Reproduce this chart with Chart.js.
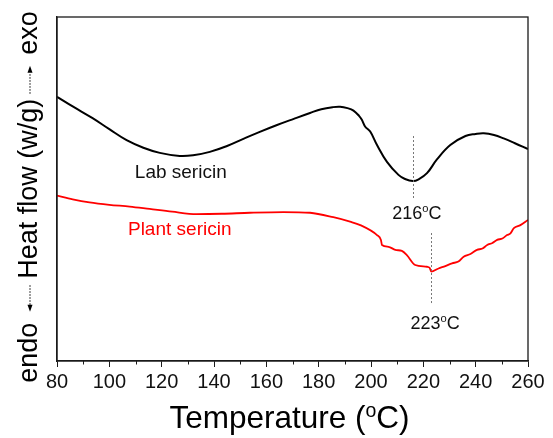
<!DOCTYPE html>
<html>
<head>
<meta charset="utf-8">
<title>DSC curves of sericin</title>
<script src="https://cdn.jsdelivr.net/npm/chart.js@4/dist/chart.umd.min.js"></script>
<style>
  html, body { margin: 0; padding: 0; background: #ffffff; }
  #wrap { width: 553px; height: 438px; }
</style>
</head>
<body>
<div id="wrap"><canvas id="dsc" width="553" height="438"></canvas></div>
<script>
// Temperature axis ticks (°C)
const tempTicks = [80, 100, 120, 140, 160, 180, 200, 220, 240, 260];

// Lab sericin DSC trace: temperature (°C) and heat flow (arbitrary, shifted)
const labTemp = [80, 86, 93.6, 100, 106.6, 113, 119.3, 126.9, 132, 138.4, 145, 151, 157.5, 164.1,
  170.5, 176.7, 181, 185.5, 188.2, 191, 193.3, 195.5, 196.5, 197.8, 199.7, 202.3, 206.1, 210.5,
  213, 216, 218.2, 221.4, 225.2, 230.3, 236.1, 240, 243.1, 247, 250.7, 255, 260];
const labFlow = [7.68, 7.40, 7.06, 6.74, 6.42, 6.20, 6.05, 5.96, 5.98, 6.08, 6.25, 6.45, 6.66, 6.86,
  7.04, 7.21, 7.32, 7.38, 7.39, 7.35, 7.28, 7.12, 7.01, 6.81, 6.67, 6.28, 5.79, 5.41,
  5.29, 5.23, 5.28, 5.46, 5.86, 6.28, 6.54, 6.60, 6.62, 6.57, 6.47, 6.33, 6.16];

// Plant sericin DSC trace
const plantTemp = [80, 86, 92.4, 100, 107.8, 115.4, 124, 133.3, 143, 153.7, 166.5, 176.7, 185.6, 192,
  195.9, 202.3, 203.8, 204.2, 206.7, 209.3, 211.8, 213.7, 216.9, 221.4, 222.4, 223, 225.8, 228.4,
  231, 233.4, 235.4, 238, 240.5, 242.6, 244.4, 246.4, 248.2, 250.2, 252, 253.3, 254.6, 257.1, 260];
const plantFlow = [4.81, 4.70, 4.61, 4.54, 4.49, 4.42, 4.34, 4.27, 4.28, 4.31, 4.33, 4.31, 4.18, 4.05,
  3.95, 3.66, 3.52, 3.37, 3.32, 3.23, 3.20, 3.08, 2.79, 2.74, 2.71, 2.60, 2.69, 2.76,
  2.84, 2.89, 3.03, 3.11, 3.23, 3.27, 3.37, 3.43, 3.52, 3.56, 3.66, 3.71, 3.86, 3.95, 4.10];

// Endothermic peak temperatures marked on each trace (°C)
const peakTemps = [216, 223];
const seriesNames = ['Lab sericin', 'Plant sericin'];

const FONT = '"Liberation Sans", Arial, Helvetica, sans-serif';

function toPoints(xs, ys) { return xs.map((x, i) => ({ x: x, y: ys[i] })); }

// text with superscript pieces: parts = [[text, isSup], ...]
function drawRich(ctx, parts, cx, baseY, size, color) {
  const supSize = size * 0.62;
  let total = 0;
  parts.forEach(([t, sup]) => {
    ctx.font = (sup ? supSize : size) + 'px ' + FONT;
    total += ctx.measureText(t).width;
  });
  let x = cx - total / 2;
  ctx.fillStyle = color;
  ctx.textAlign = 'left';
  ctx.textBaseline = 'alphabetic';
  parts.forEach(([t, sup]) => {
    ctx.font = (sup ? supSize : size) + 'px ' + FONT;
    ctx.fillText(t, x, sup ? baseY - size * 0.36 : baseY);
    x += ctx.measureText(t).width;
  });
}

// dotted arrow along +x, head at the end given by dir (1 = right, -1 = left)
function dottedArrow(ctx, x0, len, dir) {
  const head = 7;
  ctx.save();
  ctx.strokeStyle = '#000';
  ctx.fillStyle = '#000';
  ctx.lineWidth = 1;
  ctx.setLineDash([1.5, 1.5]);
  ctx.beginPath();
  if (dir > 0) { ctx.moveTo(x0, 0); ctx.lineTo(x0 + len - head, 0); }
  else { ctx.moveTo(x0 + head, 0); ctx.lineTo(x0 + len, 0); }
  ctx.stroke();
  ctx.setLineDash([]);
  ctx.beginPath();
  if (dir > 0) {
    ctx.moveTo(x0 + len, 0); ctx.lineTo(x0 + len - head, -2.5); ctx.lineTo(x0 + len - head, 2.5);
  } else {
    ctx.moveTo(x0, 0); ctx.lineTo(x0 + head, -2.5); ctx.lineTo(x0 + head, 2.5);
  }
  ctx.closePath();
  ctx.fill();
  ctx.restore();
}

const decorations = {
  id: 'decorations',
  afterDraw(chart) {
    const { ctx, chartArea: a, scales: { x, y } } = chart;
    ctx.save();

    // frame
    ctx.strokeStyle = '#1a1a1a';
    ctx.lineWidth = 1.3;
    ctx.strokeRect(a.left, a.top, a.right - a.left, a.bottom - a.top);

    // minor ticks between labelled ones
    ctx.lineWidth = 1;
    ctx.beginPath();
    for (let t = tempTicks[0] + 10; t < tempTicks[tempTicks.length - 1]; t += 20) {
      const px = Math.round(x.getPixelForValue(t)) + 0.5;
      ctx.moveTo(px, a.bottom);
      ctx.lineTo(px, a.bottom + 3.5);
    }
    ctx.stroke();

    // peak markers
    const markerSpans = [[6.54, 4.74], [3.72, 1.63]];
    const labelLevels = [4.33, 1.13];
    ctx.strokeStyle = '#777';
    ctx.lineWidth = 1;
    ctx.setLineDash([2, 2]);
    peakTemps.forEach((t, i) => {
      const px = Math.round(x.getPixelForValue(t)) + 0.5;
      ctx.beginPath();
      ctx.moveTo(px, y.getPixelForValue(markerSpans[i][0]));
      ctx.lineTo(px, y.getPixelForValue(markerSpans[i][1]));
      ctx.stroke();
    });
    ctx.setLineDash([]);
    peakTemps.forEach((t, i) => {
      drawRich(ctx, [[String(t), false], ['o', true], ['C', false]],
        x.getPixelForValue(t + 1.5), y.getPixelForValue(labelLevels[i]) + 6.5, 18, '#111');
    });

    // series names
    const nameSpots = [[127.3, 5.47, '#111'], [126.9, 3.81, '#ff0000']];
    ctx.font = '19px ' + FONT;
    ctx.textAlign = 'center';
    ctx.textBaseline = 'middle';
    seriesNames.forEach((n, i) => {
      ctx.fillStyle = nameSpots[i][2];
      ctx.fillText(n, x.getPixelForValue(nameSpots[i][0]), y.getPixelForValue(nameSpots[i][1]));
    });

    // x axis title
    drawRich(ctx, [['Temperature (', false], ['o', true], ['C)', false]],
      (a.left + a.right) / 2 - 3, 428, 31.5, '#000');

    // y axis title, read bottom to top
    ctx.translate(30, 197);
    ctx.rotate(-Math.PI / 2);
    const size = 27;
    ctx.font = size + 'px ' + FONT;
    ctx.fillStyle = '#000';
    ctx.textBaseline = 'middle';
    ctx.textAlign = 'left';
    const w1 = ctx.measureText('endo').width;
    const w2 = ctx.measureText('Heat flow (w/g)').width;
    const w3 = ctx.measureText('exo').width;
    const arrowLen = 28, gapNear = 5, gapFar = 11;
    const total = w1 + gapFar + arrowLen + gapNear + w2 + gapNear + arrowLen + gapFar + w3;
    let cx = -total / 2;
    ctx.fillText('endo', cx, 0); cx += w1 + gapFar;
    dottedArrow(ctx, cx, arrowLen, -1); cx += arrowLen + gapNear;
    ctx.fillText('Heat flow (w/g)', cx, 0); cx += w2 + gapNear;
    dottedArrow(ctx, cx, arrowLen, 1); cx += arrowLen + gapFar;
    ctx.fillText('exo', cx, 0);

    ctx.restore();
  }
};

new Chart(document.getElementById('dsc'), {
  type: 'line',
  data: {
    datasets: [
      {
        label: seriesNames[0],
        data: toPoints(labTemp, labFlow),
        borderColor: '#000000',
        borderWidth: 2,
        pointRadius: 0,
        tension: 0.4,
        fill: false
      },
      {
        label: seriesNames[1],
        data: toPoints(plantTemp, plantFlow),
        borderColor: '#ff0000',
        borderWidth: 1.8,
        pointRadius: 0,
        cubicInterpolationMode: 'monotone',
        fill: false
      }
    ]
  },
  options: {
    responsive: false,
    animation: false,
    devicePixelRatio: 1,
    layout: { padding: { left: 0, right: 25, top: 17, bottom: 0 } },
    plugins: { legend: { display: false }, tooltip: { enabled: false } },
    scales: {
      x: {
        type: 'linear',
        min: tempTicks[0],
        max: tempTicks[tempTicks.length - 1],
        afterBuildTicks: (s) => { s.ticks = tempTicks.map(v => ({ value: v })); },
        afterFit: (s) => { s.height = 77; },
        ticks: {
          font: { family: FONT, size: 20 },
          color: '#111',
          padding: 3,
          maxRotation: 0,
          autoSkip: false
        },
        grid: { drawOnChartArea: false, tickLength: 6, color: '#1a1a1a', lineWidth: 1 },
        border: { display: true, color: '#1a1a1a', width: 1.3 }
      },
      y: {
        type: 'linear',
        min: 0,
        max: 10,
        afterFit: (s) => { s.width = 57; },
        ticks: { display: false },
        grid: { display: false },
        border: { display: true, color: '#1a1a1a', width: 1.3 }
      }
    }
  },
  plugins: [decorations]
});
</script>
</body>
</html>
